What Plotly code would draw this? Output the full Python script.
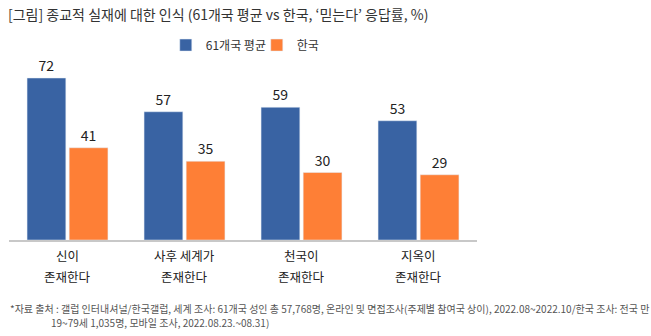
import plotly.graph_objects as go

categories = ["신이 존재한다", "사후 세계가 존재한다", "천국이 존재한다", "지옥이 존재한다"]
label_line1 = ["신이", "사후 세계가", "천국이", "지옥이"]
label_line2 = ["존재한다", "존재한다", "존재한다", "존재한다"]
avg61 = [72, 57, 59, 53]
korea = [41, 35, 30, 29]
series_names = ["61개국 평균", "한국"]

FONT = "Noto Sans CJK KR"
BLUE = "#3963A3"
ORANGE = "#FE7F36"

fig = go.Figure()
fig.add_trace(go.Bar(x=categories, y=avg61, name=series_names[0], marker_color=BLUE,
                     text=avg61, textposition="outside", cliponaxis=False,
                     textfont=dict(size=14, color="#222", family=FONT)))
fig.add_trace(go.Bar(x=categories, y=korea, name=series_names[1], marker_color=ORANGE,
                     text=korea, textposition="outside", cliponaxis=False,
                     textfont=dict(size=14, color="#222", family=FONT)))

for c, l1, l2 in zip(categories, label_line1, label_line2):
    fig.add_annotation(x=c, y=0, xref="x", yref="paper", text=l1, showarrow=False,
                       yanchor="middle", yshift=-15, font=dict(size=12.5, color="#222", family=FONT))
    fig.add_annotation(x=c, y=0, xref="x", yref="paper", text=l2, showarrow=False,
                       yanchor="middle", yshift=-36, font=dict(size=12.5, color="#222", family=FONT))

foot1 = "*자료 출처 : 갤럽 인터내셔널/한국갤럽, 세계 조사: 61개국 성인 총 57,768명, 온라인 및 면접조사(주제별 참여국 상이), 2022.08~2022.10/한국 조사: 전국 만"
foot2 = "19~79세 1,035명, 모바일 조사, 2022.08.23.~08.31)"

fig.update_layout(
    width=651, height=336,
    margin=dict(l=9, r=174, t=60, b=96),
    paper_bgcolor="white", plot_bgcolor="white",
    barmode="group", bargap=0.28, bargroupgap=0.08,
    font=dict(family=FONT, color="#333"),
    title=dict(text="[그림] 종교적 실재에 대한 인식 (61개국 평균 vs 한국, ‘믿는다’ 응답률, %)",
               x=8/651, xref="container", xanchor="left",
               y=1-15/336, yref="container", yanchor="middle",
               font=dict(size=14, color="#333", family=FONT)),
    legend=dict(orientation="h", x=0.335, xanchor="left", y=1.083, yanchor="middle",
                font=dict(size=12, color="#333", family=FONT),
                entrywidth=46, entrywidthmode="pixels", itemwidth=30),
    xaxis=dict(showline=True, linecolor="#c8c8c8", linewidth=1.5, showticklabels=False,
               showgrid=False, ticks=""),
    yaxis=dict(range=[0, 80], visible=False, showgrid=False),
    showlegend=True,
)

for txt, px, py in [(foot1, 8, 308), (foot2, 49, 322)]:
    fig.add_annotation(x=(px-9)/468, y=(240-py)/180, xref="paper", yref="paper", text=txt,
                       showarrow=False, xanchor="left", yanchor="middle",
                       font=dict(size=10, color="#555", family=FONT))

fig.write_html("out.html")
